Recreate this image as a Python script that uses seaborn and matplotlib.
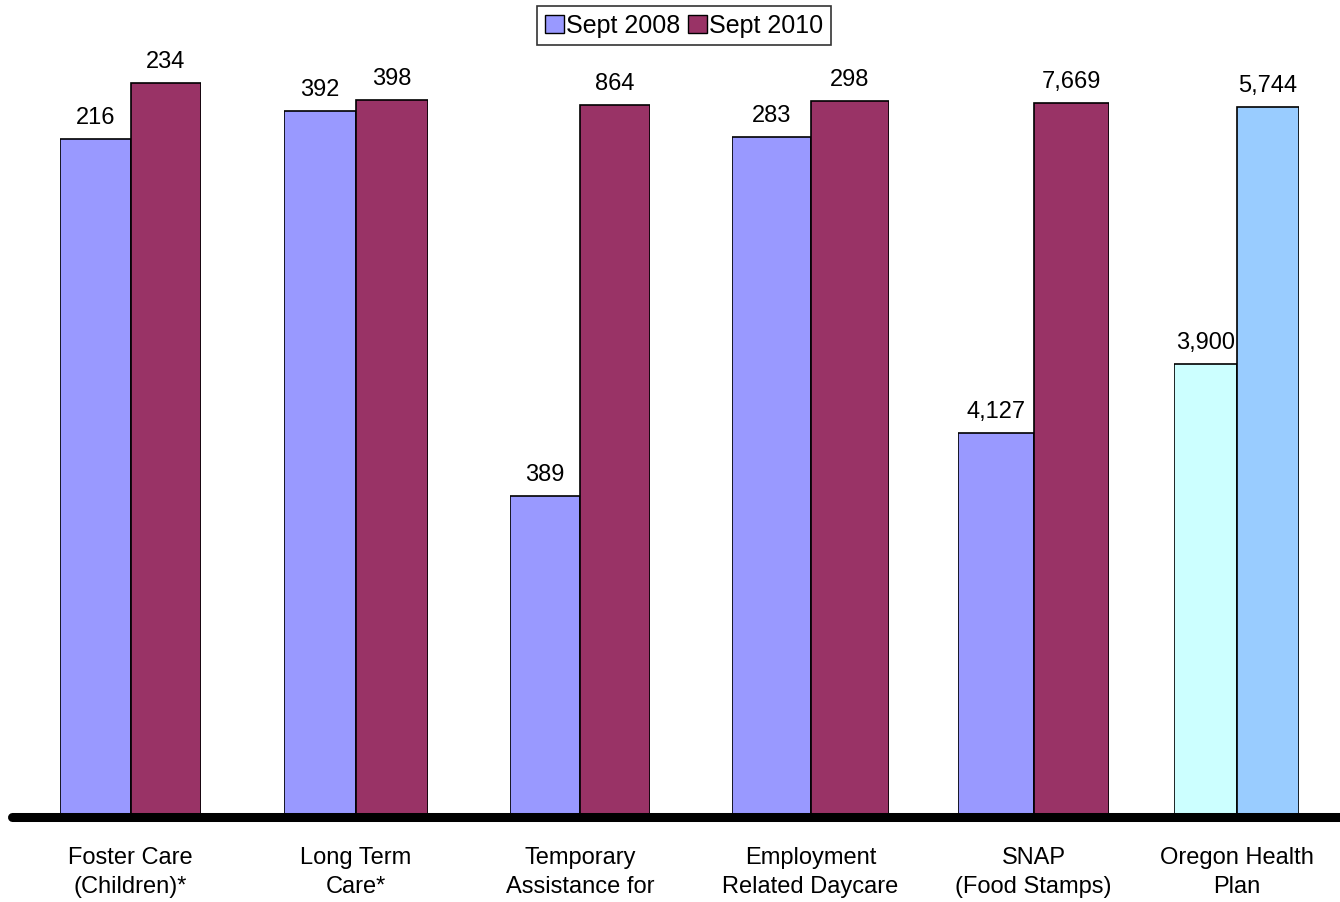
import pandas as pd
import seaborn as sns
import matplotlib.pyplot as plt
from matplotlib.lines import Line2D
from matplotlib.patches import Patch

programs = ["Foster Care\n(Children)*", "Long Term\nCare*", "Temporary\nAssistance for",
            "Employment\nRelated Daycare", "SNAP\n(Food Stamps)", "Oregon Health\nPlan"]
periods = ["Sept 2008", "Sept 2010"]
sept_2008 = [216, 392, 389, 283, 4127, 3900]
sept_2010 = [234, 398, 864, 298, 7669, 5744]

sns.set_style("white")
plt.rcParams["font.family"] = ["Liberation Sans", "DejaVu Sans"]
plt.rcParams["text.color"] = "black"

W, H = 1340, 903
# every program is its own little chart with its own scale
spans = [(60, 201), (284, 428), (510, 650), (732, 889), (958, 1109), (1174, 1299)]
ylims = [(0, 241.6), (0, 421), (0, 920), (0, 315.4), (0, 8142), (650, 6088)]
palettes = [["#9999FF", "#993366"]] * 5 + [["#CCFFFF", "#99CCFF"]]
base_y, top_y = 818, 60
fs = 17

fig = plt.figure(figsize=(W / 100, H / 100), dpi=100)

for i, prog in enumerate(programs):
    l, r = spans[i]
    ax = fig.add_axes([l / W, (H - base_y) / H, (r - l) / W, (base_y - top_y) / H])
    df = pd.DataFrame({"program": [prog, prog], "period": periods,
                       "value": [sept_2008[i], sept_2010[i]]})
    sns.barplot(data=df, x="program", y="value", hue="period", palette=palettes[i],
                saturation=1, width=1.0, edgecolor="black", linewidth=1.2,
                legend=False, ax=ax)
    for cont, v in zip(ax.containers, df["value"]):
        ax.bar_label(cont, labels=[f"{v:,.0f}"], padding=8, fontsize=fs, color="black")
    ax.set_xlim(-0.5, 0.5)
    ax.set_ylim(*ylims[i])
    ax.axis("off")
    fig.text((l + r) / 2 / W, 1 - 847 / H, prog, ha="center", va="top",
             fontsize=fs, linespacing=1.42, color="black")

# thick baseline across the whole slide
fig.add_artist(Line2D([12 / W, 1.0], [1 - base_y / H] * 2, color="black", lw=6.5,
                      solid_capstyle="round", zorder=10))

handles = [Patch(facecolor=c, edgecolor="black", label=p)
           for c, p in zip(palettes[0], periods)]
leg = fig.legend(handles=handles, loc="upper center", bbox_to_anchor=(684 / W, 1 - 7 / H),
                 ncol=2, frameon=True, fancybox=False, edgecolor="black", fontsize=18,
                 handlelength=0.75, handleheight=0.75, handletextpad=0.1,
                 columnspacing=0.3, borderpad=0.3, borderaxespad=0)
leg.get_frame().set_linewidth(1.2)

fig.savefig("out.png", dpi=100)
